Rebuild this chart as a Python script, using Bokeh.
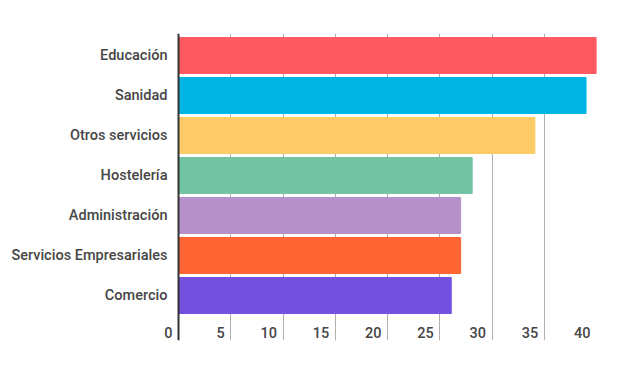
from bokeh.plotting import figure
from bokeh.models import ColumnDataSource, FixedTicker, Range1d, Label, Span
from bokeh.embed import file_html
from bokeh.resources import INLINE

categories = ["Educación", "Sanidad", "Otros servicios", "Hostelería",
              "Administración", "Servicios Empresariales", "Comercio"]
values = [40.0, 39.0, 34.1, 28.1, 27.0, 27.0, 26.1]
colors = ["#ff5a63", "#00b4e3", "#fcca66", "#72c4a5", "#b590c9", "#ff6633", "#7451df"]
x_ticks = [0, 5, 10, 15, 20, 25, 30, 35, 40]
x_tick_labels = ["0", "5", "10", "15", "20", "25", "30", "35", "40"]

FONT = "'Roboto Medium', Roboto"
n = len(categories)
ypos = [n - 1 - i for i in range(n)]

src = ColumnDataSource(dict(y=ypos, right=values, color=colors, cat=categories))

p = figure(width=604, height=352, output_backend="svg", toolbar_location=None,
           x_range=Range1d(-1.533, 40), y_range=Range1d(-1.125, n - 1 + 0.55),
           min_border_left=162, min_border_right=8, min_border_top=33,
           min_border_bottom=12)
p.outline_line_color = None
p.background_fill_color = "white"

p.xaxis.visible = False
p.xgrid.ticker = FixedTicker(ticks=[5, 10, 15, 20, 25, 30, 35])
p.xgrid.grid_line_color = "#b0b0b0"
p.xgrid.grid_line_width = 1
p.ygrid.grid_line_color = None

p.hbar(y="y", left=0, right="right", height=0.9, color="color", source=src)

# value axis line at zero
p.add_layout(Span(location=0, dimension="height", line_color="#333333", line_width=2))

# x tick labels, right-aligned just before each grid line
for xv, t in zip(x_ticks, x_tick_labels):
    p.add_layout(Label(x=xv, y=-0.925, text=t, text_align="right",
                       text_baseline="middle", x_offset=-6, text_font=FONT,
                       text_font_size="14.5px", text_color="#474747"))

ya = p.yaxis[0]
ya.ticker = FixedTicker(ticks=ypos)
ya.major_label_overrides = {y: c for y, c in zip(ypos, categories)}
ya.major_tick_line_color = None
ya.minor_tick_line_color = None
ya.major_tick_out = 0
ya.major_tick_in = 0
ya.minor_tick_out = 0
ya.axis_line_color = None
ya.major_label_standoff = -5
ya.major_label_text_font = FONT
ya.major_label_text_font_size = "14.5px"
ya.major_label_text_color = "#474747"

open("out.html", "w").write(file_html(p, INLINE))
